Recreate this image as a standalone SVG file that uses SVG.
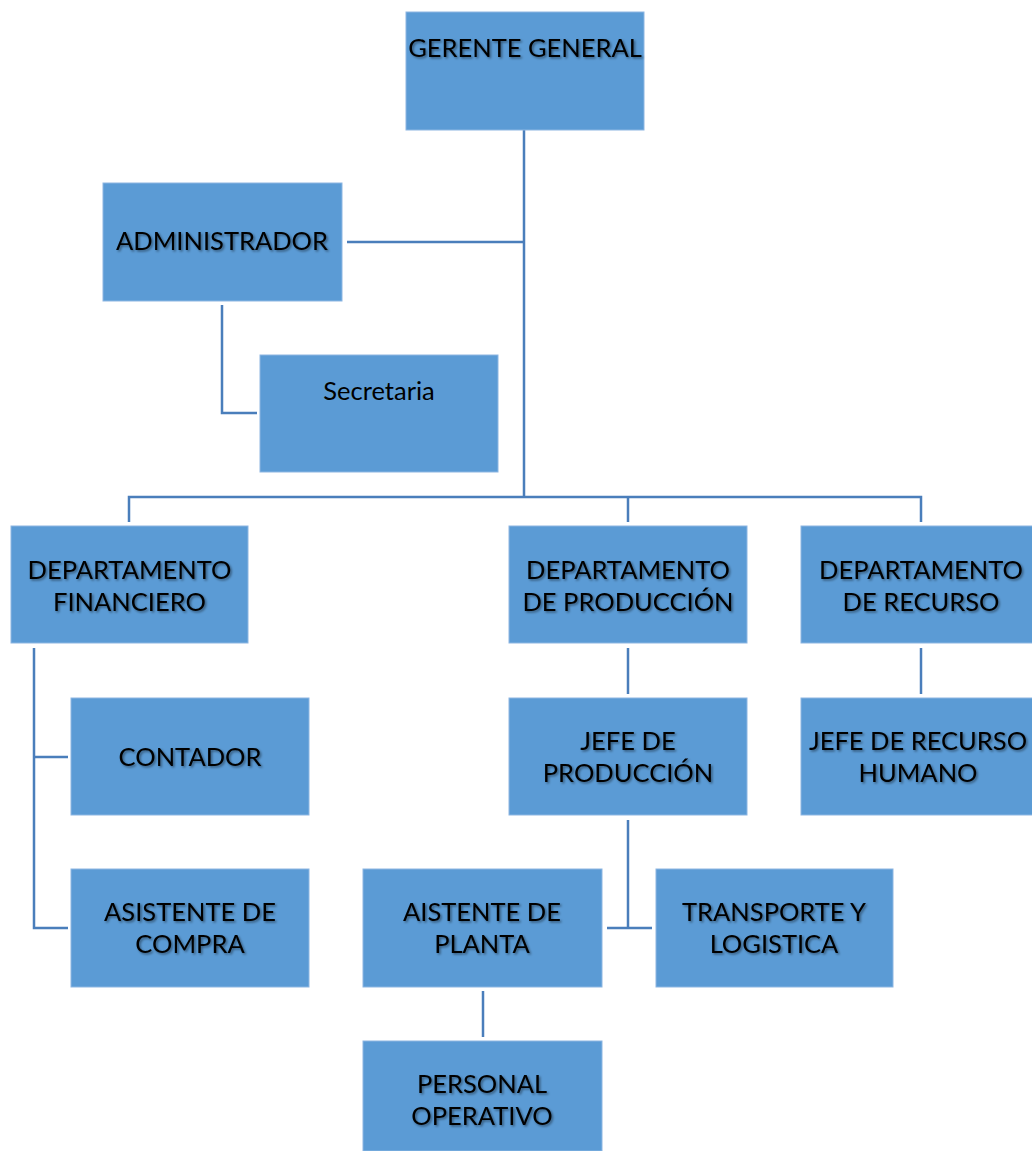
<svg xmlns="http://www.w3.org/2000/svg" width="1032" height="1151" viewBox="0 0 1032 1151">
<defs>
<style>
.box{fill:#5B9BD5;stroke:#8DB6E2;stroke-width:1}
.t{font-family:Lato,"Open Sans","Liberation Sans",sans-serif;font-size:25.5px;fill:#000;text-anchor:middle}
.sh{filter:url(#shadow)}
.conn{fill:none;stroke:#4A7EBB;stroke-width:2.5}
</style>
<filter id="shadow" x="-10%" y="-30%" width="120%" height="160%">
<feDropShadow dx="1.5" dy="1.5" stdDeviation="1" flood-color="#000" flood-opacity="0.45"/>
</filter>
</defs>
<rect width="1032" height="1151" fill="#fff"/>
<g id="connectors">
<path class="conn" d="M524,130 V497"/>
<path class="conn" d="M347,242 H524"/>
<path class="conn" d="M222,305 V413 H257"/>
<path class="conn" d="M129,522 V497 H921 V522"/>
<path class="conn" d="M628,497 V522"/>
<path class="conn" d="M628,648 V694"/>
<path class="conn" d="M921,648 V694"/>
<path class="conn" d="M34,648 V928 H68"/>
<path class="conn" d="M34,757 H68"/>
<path class="conn" d="M628,820 V928"/>
<path class="conn" d="M607,928 H652"/>
<path class="conn" d="M483,991 V1037"/>
</g>
<g id="gerente">
<rect class="box" x="406" y="12" width="238" height="118"/>
<text class="t sh" x="525" y="57">GERENTE GENERAL</text>
</g>
<g id="administrador">
<rect class="box" x="103" y="183" width="239" height="118"/>
<text class="t sh" x="222" y="250">ADMINISTRADOR</text>
</g>
<g id="secretaria">
<rect class="box" x="260" y="355" width="238" height="117"/>
<text class="t" x="379" y="400">Secretaria</text>
</g>
<g id="dep-financiero">
<rect class="box" x="11" y="526" width="237" height="117"/>
<text class="t sh" x="129.5"><tspan x="129.5" y="579">DEPARTAMENTO</tspan><tspan x="129.5" y="611">FINANCIERO</tspan></text>
</g>
<g id="dep-produccion">
<rect class="box" x="509" y="526" width="238" height="117"/>
<text class="t sh" x="628"><tspan x="628" y="579">DEPARTAMENTO</tspan><tspan x="628" y="611">DE PRODUCCIÓN</tspan></text>
</g>
<g id="dep-recurso">
<rect class="box" x="801" y="526" width="240" height="117"/>
<text class="t sh" x="921"><tspan x="921" y="579">DEPARTAMENTO</tspan><tspan x="921" y="611">DE RECURSO</tspan></text>
</g>
<g id="contador">
<rect class="box" x="71" y="698" width="238" height="117"/>
<text class="t sh" x="190" y="766">CONTADOR</text>
</g>
<g id="jefe-produccion">
<rect class="box" x="509" y="698" width="238" height="117"/>
<text class="t sh" x="628"><tspan x="628" y="750">JEFE DE</tspan><tspan x="628" y="782">PRODUCCIÓN</tspan></text>
</g>
<g id="jefe-rrhh">
<rect class="box" x="801" y="698" width="240" height="117"/>
<text class="t sh" x="921"><tspan x="918" y="750">JEFE DE RECURSO</tspan><tspan x="918" y="782">HUMANO</tspan></text>
</g>
<g id="asistente-compra">
<rect class="box" x="71" y="869" width="238" height="118"/>
<text class="t sh" x="190"><tspan x="190" y="921">ASISTENTE DE</tspan><tspan x="190" y="953">COMPRA</tspan></text>
</g>
<g id="asistente-planta">
<rect class="box" x="363" y="869" width="239" height="118"/>
<text class="t sh" x="482"><tspan x="482" y="921">AISTENTE DE</tspan><tspan x="482" y="953">PLANTA</tspan></text>
</g>
<g id="transporte">
<rect class="box" x="656" y="869" width="237" height="118"/>
<text class="t sh" x="774"><tspan x="774" y="921">TRANSPORTE Y</tspan><tspan x="774" y="953">LOGISTICA</tspan></text>
</g>
<g id="personal">
<rect class="box" x="363" y="1041" width="239" height="110"/>
<text class="t sh" x="482"><tspan x="482" y="1093">PERSONAL</tspan><tspan x="482" y="1125">OPERATIVO</tspan></text>
</g>
</svg>
